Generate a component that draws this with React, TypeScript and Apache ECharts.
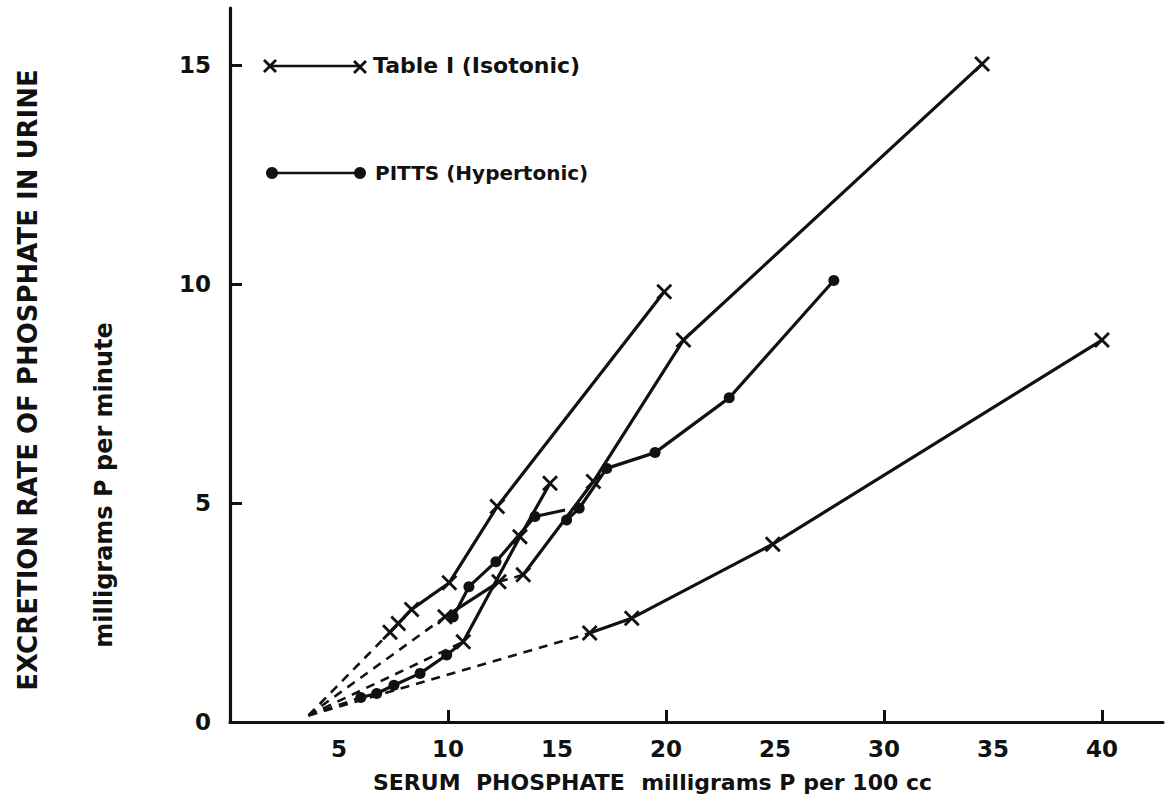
import React, { useEffect, useRef } from "react";
import * as echarts from "echarts";

// ---- data ----
const extrapOrigin: [number, number] = [3.6, 0.15];

// Table I (Isotonic) series – crosses
const tableA: [number, number][] = [[7.34, 2.05], [7.72, 2.25], [8.33, 2.57], [10.06, 3.18], [12.26, 4.92], [19.92, 9.82]];
const tableB1: [number, number][] = [[9.86, 2.4], [12.34, 3.2]];
const tableB2: [number, number][] = [[13.45, 3.36], [16.67, 5.49], [20.8, 8.72], [34.5, 15.02]];
const tableC: [number, number][] = [[10.7, 1.83], [13.3, 4.23], [14.68, 5.45]];
const tableD: [number, number][] = [[16.5, 2.03], [18.43, 2.37], [24.9, 4.06], [40.0, 8.72]];

// PITTS (Hypertonic) series – dots
const pittsA: [number, number][] = [[6.0, 0.56], [6.73, 0.65], [7.52, 0.84], [8.72, 1.11], [9.94, 1.53]];
const pittsB: [number, number][] = [[10.24, 2.4], [10.96, 3.09], [12.2, 3.66], [13.99, 4.69]];
const pittsBTail: [number, number] = [15.37, 4.84];
const pittsC: [number, number][] = [[15.44, 4.61], [16.02, 4.88], [17.28, 5.79], [19.5, 6.15], [22.9, 7.4], [27.7, 10.08]];

const xLabelValues = [5, 10, 15, 20, 25, 30, 35, 40];
const xTickValues = [10, 20, 30, 40];
const yLabelValues = [0, 5, 10, 15];
const yTickValues = [5, 10, 15];

const legendLabels = ["Table I (Isotonic)", "PITTS (Hypertonic)"];
const yTitle = "EXCRETION RATE OF PHOSPHATE IN URINE";
const yUnit = "milligrams P per minute";
const xTitle = "SERUM  PHOSPHATE";
const xUnit = "milligrams P per 100 cc";

const INK = "#111";
const FONT = "'DejaVu Sans', sans-serif";
const CROSS = "path://M0,1.5L1.5,0L6,4.5L10.5,0L12,1.5L7.5,6L12,10.5L10.5,12L6,7.5L1.5,12L0,10.5L4.5,6Z";

function solid(data: any[], symbol: string, size: number) {
  return {
    type: "line",
    data,
    symbol,
    symbolSize: size,
    showAllSymbol: true,
    lineStyle: { color: INK, width: 3.2 },
    itemStyle: { color: INK },
    z: 3,
  };
}
function dashed(a: [number, number], b: [number, number]) {
  return {
    type: "line",
    data: [a, b],
    symbol: "none",
    lineStyle: { color: INK, width: 2.6, type: [9, 7] },
    z: 2,
  };
}
function link(a: [number, number], b: [number, number]) {
  return {
    type: "line",
    data: [a, b],
    symbol: "none",
    lineStyle: { color: INK, width: 3 },
    z: 2,
  };
}

function crossLines(cx: number, cy: number) {
  const h = 6;
  return [
    { type: "line", shape: { x1: cx - h, y1: cy - h, x2: cx + h, y2: cy + h }, style: { stroke: INK, lineWidth: 2.8 } },
    { type: "line", shape: { x1: cx - h, y1: cy + h, x2: cx + h, y2: cy - h }, style: { stroke: INK, lineWidth: 2.8 } },
  ];
}

export default function App() {
  const ref = useRef<HTMLDivElement>(null);
  useEffect(() => {
    if (!ref.current) return;
    const chart = echarts.init(ref.current, undefined, { renderer: "svg" });
    const option: any = {
      animation: false,
      backgroundColor: "#fff",
      grid: { left: 230, right: 6, top: 8, bottom: 81 },
      xAxis: {
        type: "value",
        min: 0,
        max: 42.8,
        axisLine: { show: true, lineStyle: { color: INK, width: 3.2 } },
        axisTick: { show: true, inside: true, length: 12, lineStyle: { color: INK, width: 3 }, customValues: xTickValues },
        axisLabel: { customValues: xLabelValues, color: INK, fontSize: 23, fontWeight: "bold", fontFamily: FONT, margin: 15 },
        splitLine: { show: false },
      },
      yAxis: {
        type: "value",
        min: 0,
        max: 16.3,
        axisLine: { show: true, lineStyle: { color: INK, width: 3.2 } },
        axisTick: { show: true, inside: true, length: 12, lineStyle: { color: INK, width: 3 }, customValues: yTickValues },
        axisLabel: { customValues: yLabelValues, color: INK, fontSize: 23, fontWeight: "bold", fontFamily: FONT, margin: 19 },
        splitLine: { show: false },
      },
      series: [
        dashed(extrapOrigin, tableA[0]),
        dashed(extrapOrigin, tableB1[0]),
        dashed(extrapOrigin, tableC[0]),
        dashed(extrapOrigin, tableD[0]),
        dashed(extrapOrigin, pittsA[0]),
        dashed(tableB1[tableB1.length - 1], tableB2[0]),
        link(pittsA[pittsA.length - 1], tableC[0]),
        solid(tableA, CROSS, 16),
        solid(tableB1, CROSS, 16),
        solid(tableB2, CROSS, 16),
        solid(tableC, CROSS, 16),
        solid(tableD, CROSS, 16),
        solid(pittsA, "circle", 11),
        solid([...pittsB, { value: pittsBTail, symbol: "none" }], "circle", 11),
        solid(pittsC, "circle", 11),
      ],
      graphic: [
        // legend
        { type: "line", shape: { x1: 270, y1: 66, x2: 360, y2: 66 }, style: { stroke: INK, lineWidth: 2.5 } },
        ...crossLines(270, 66),
        ...crossLines(360, 67),
        { type: "text", x: 373, y: 65, style: { text: legendLabels[0], fontSize: 22, fontWeight: "bold", fontFamily: FONT, fill: INK, textAlign: "left", textVerticalAlign: "middle" } },
        { type: "line", shape: { x1: 272, y1: 173, x2: 360, y2: 173 }, style: { stroke: INK, lineWidth: 2.5 } },
        { type: "circle", shape: { cx: 272, cy: 173, r: 6 }, style: { fill: INK } },
        { type: "circle", shape: { cx: 360, cy: 173, r: 6 }, style: { fill: INK } },
        { type: "text", x: 375, y: 173, style: { text: legendLabels[1], fontSize: 20, fontWeight: "bold", fontFamily: FONT, fill: INK, textAlign: "left", textVerticalAlign: "middle" } },
        // axis titles
        { type: "text", x: 28, y: 380, rotation: Math.PI / 2, style: { text: yTitle, fontSize: 26, fontWeight: "bold", fontFamily: FONT, fill: INK, textAlign: "center", textVerticalAlign: "middle" } },
        { type: "text", x: 104, y: 485, rotation: Math.PI / 2, style: { text: yUnit, fontSize: 24, fontWeight: "bold", fontFamily: FONT, fill: INK, textAlign: "center", textVerticalAlign: "middle" } },
        { type: "text", x: 373, y: 782, style: { text: xTitle, fontSize: 22, fontWeight: "bold", fontFamily: FONT, fill: INK, textAlign: "left", textVerticalAlign: "middle" } },
        { type: "text", x: 932, y: 782, style: { text: xUnit, fontSize: 22, fontWeight: "bold", fontFamily: FONT, fill: INK, textAlign: "right", textVerticalAlign: "middle" } },
      ],
    };
    chart.setOption(option);
    return () => chart.dispose();
  }, []);
  return <div ref={ref} style={{ position: "fixed", left: 0, top: 0, width: 1169, height: 803, background: "#fff" }} />;
}
